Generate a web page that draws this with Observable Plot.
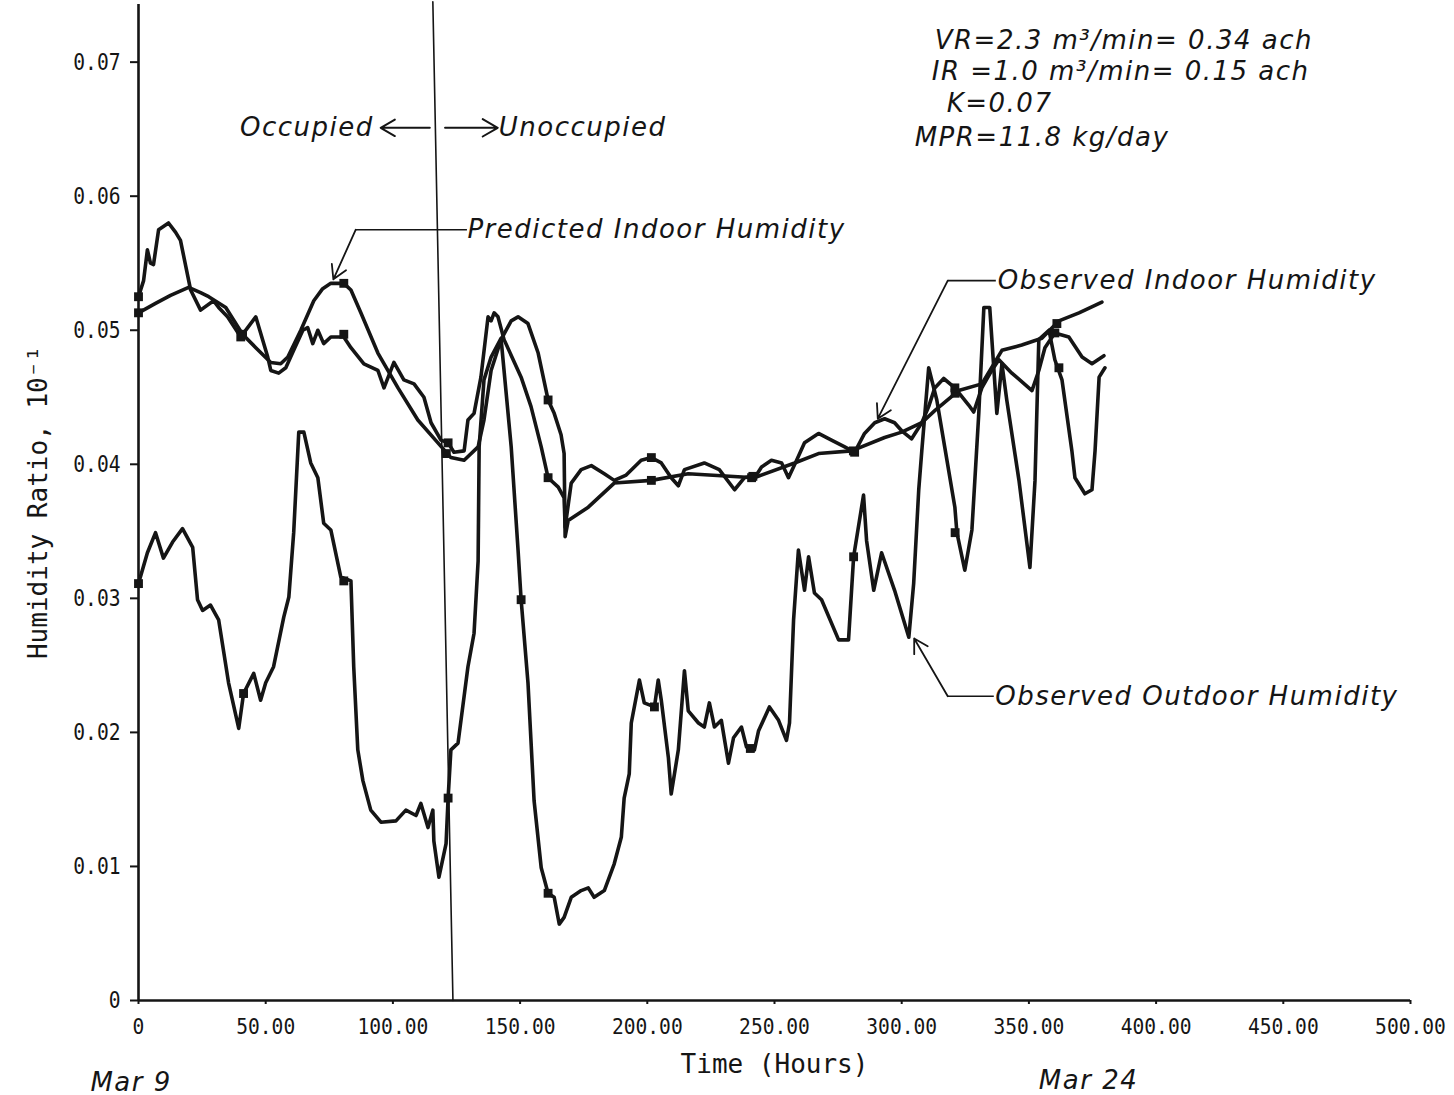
<!DOCTYPE html>
<html><head><meta charset="utf-8">
<script src="https://cdn.jsdelivr.net/npm/d3@7"></script>
<script src="https://cdn.jsdelivr.net/npm/@observablehq/plot@0.6"></script>
<style>
body{margin:0;background:#fff;}
#chart svg{display:block}
</style></head><body><div id="chart"></div>
<script>
// Hours, humidity ratio (10^-1)
const predicted = [
[0,0.0513],[6.7,0.0520],[12.6,0.0526],[19.7,0.0532],[24.4,0.0528],[27.6,0.0525],[34.3,0.0517],[40.9,0.0497],[46.1,0.0487],[52.0,0.0476],[55.9,0.0475],[58.7,0.0480],[63.8,0.0500],[68.9,0.0522],[72.4,0.0531],[75.6,0.0535],[80.7,0.0535],[83.5,0.0530],[87.4,0.0513],[94.1,0.0483],[102.0,0.0457],[109.8,0.0433],[117.7,0.0416],[122.8,0.0405],[128.0,0.0403],[133.5,0.0413],[135.8,0.0433],[138.6,0.0470],[142.5,0.0493],[146.5,0.0507],[149.2,0.0510],[153.1,0.0505],[157.1,0.0483],[161.0,0.0448],[163.4,0.0438],[166.1,0.0422],[167.3,0.0408],[167.7,0.0346],[168.9,0.0358],[176.8,0.0368],[187.0,0.0386],[201.6,0.0388],[216.1,0.0393],[242.1,0.0390],[257.9,0.0401],[267.3,0.0408],[280.3,0.0410],[293.3,0.0420],[300.0,0.0424],[307.9,0.0431],[313.0,0.0440],[322.4,0.0455],[331.5,0.0460],[339.4,0.0485],[347.2,0.0489],[355.1,0.0494],[361.8,0.0507],[369.7,0.0513],[378.7,0.0521]
];
const observedIndoor = [
[0,0.0525],[2.0,0.0537],[3.5,0.0560],[4.7,0.0550],[5.9,0.0549],[7.9,0.0575],[11.8,0.0580],[14.6,0.0573],[16.5,0.0567],[20.5,0.0530],[24.4,0.0515],[29.5,0.0522],[31.5,0.0517],[35.0,0.0510],[40.2,0.0495],[46.1,0.0510],[50.8,0.0480],[52.0,0.0470],[55.1,0.0468],[57.9,0.0472],[61.0,0.0485],[64.6,0.0500],[66.5,0.0502],[68.5,0.0490],[70.5,0.0500],[72.8,0.0490],[75.6,0.0495],[80.7,0.0495],[83.5,0.0487],[88.6,0.0475],[94.1,0.0470],[96.5,0.0457],[100.4,0.0476],[104.3,0.0463],[108.3,0.0460],[112.2,0.0450],[115.0,0.0431],[118.9,0.0418],[121.7,0.0416],[124.0,0.0409],[128.0,0.0410],[129.5,0.0433],[131.9,0.0438],[134.6,0.0465],[137.4,0.0510],[138.6,0.0507],[139.8,0.0513],[141.3,0.0510],[143.7,0.0493],[150.4,0.0465],[154.3,0.0443],[158.3,0.0413],[161.0,0.0390],[165.0,0.0383],[167.3,0.0375],[167.7,0.0353],[170.1,0.0386],[174.0,0.0396],[178.0,0.0399],[183.1,0.0393],[187.0,0.0388],[191.7,0.0392],[197.6,0.0403],[201.6,0.0405],[205.5,0.0401],[209.4,0.0390],[212.2,0.0384],[214.6,0.0396],[222.4,0.0401],[228.3,0.0396],[234.3,0.0381],[238.2,0.0390],[242.9,0.0392],[244.9,0.0398],[248.8,0.0403],[252.8,0.0401],[255.5,0.0390],[258.7,0.0403],[261.8,0.0416],[267.3,0.0423],[272.4,0.0418],[277.6,0.0413],[281.5,0.0409],[285.4,0.0423],[289.4,0.0431],[293.3,0.0434],[297.2,0.0431],[300.0,0.0425],[303.9,0.0419],[307.9,0.0431],[310.6,0.0443],[313.0,0.0457],[316.5,0.0464],[320.9,0.0457],[326.4,0.0444],[328.3,0.0439],[331.5,0.0457],[335.4,0.0470],[338.2,0.0478],[343.3,0.0468],[351.2,0.0455],[353.9,0.0470],[356.3,0.0487],[360.2,0.0498],[365.7,0.0495],[370.9,0.0480],[374.8,0.0475],[379.5,0.0481]
];
const observedOutdoor = [
[0,0.0311],[3.5,0.0334],[6.7,0.0349],[9.8,0.0330],[13.4,0.0342],[17.3,0.0352],[21.3,0.0338],[23.2,0.0299],[25.2,0.0291],[28.3,0.0295],[31.5,0.0284],[35.4,0.0237],[39.4,0.0203],[41.3,0.0229],[45.3,0.0244],[48.0,0.0224],[50.0,0.0237],[53.1,0.0249],[57.1,0.0286],[59.1,0.0301],[61.0,0.0349],[63.0,0.0424],[65.0,0.0424],[67.7,0.0401],[70.5,0.0390],[72.8,0.0356],[75.6,0.0351],[79.5,0.0316],[83.5,0.0313],[84.6,0.0249],[86.2,0.0187],[88.2,0.0164],[91.3,0.0142],[95.3,0.0133],[101.2,0.0134],[105.1,0.0142],[109.1,0.0138],[111.0,0.0147],[113.8,0.0129],[115.7,0.0142],[116.1,0.0119],[118.1,0.0092],[120.9,0.0117],[121.7,0.0151],[122.8,0.0187],[125.6,0.0192],[129.5,0.0249],[131.9,0.0274],[133.5,0.0328],[133.9,0.0413],[135.8,0.0463],[138.6,0.0480],[142.5,0.0494],[146.5,0.0413],[149.2,0.0336],[150.4,0.0299],[153.1,0.0237],[155.5,0.0149],[158.3,0.0099],[161.0,0.0080],[163.4,0.0077],[165.4,0.0057],[167.3,0.0062],[170.1,0.0077],[174.0,0.0082],[176.8,0.0084],[179.1,0.0077],[183.1,0.0082],[187.0,0.0102],[189.8,0.0122],[190.9,0.0151],[192.9,0.0169],[193.7,0.0207],[196.9,0.0239],[198.8,0.0222],[202.8,0.0219],[204.3,0.0239],[205.5,0.0224],[208.3,0.0181],[209.4,0.0154],[212.2,0.0187],[214.6,0.0246],[216.1,0.0216],[220.1,0.0207],[222.4,0.0204],[224.4,0.0222],[226.4,0.0204],[229.1,0.0209],[231.9,0.0177],[233.9,0.0196],[237.0,0.0204],[239.0,0.0189],[242.1,0.0187],[243.7,0.0201],[248.0,0.0219],[251.6,0.0209],[254.7,0.0194],[255.9,0.0207],[257.5,0.0284],[259.4,0.0336],[261.8,0.0306],[263.4,0.0331],[265.7,0.0304],[268.5,0.0299],[275.2,0.0269],[279.1,0.0269],[281.1,0.0331],[285.0,0.0377],[286.2,0.0343],[289.0,0.0306],[292.1,0.0334],[297.2,0.0306],[302.8,0.0271],[304.7,0.0311],[306.7,0.0381],[307.9,0.0410],[310.6,0.0472],[313.8,0.0448],[316.9,0.0413],[320.9,0.0368],[321.7,0.0349],[324.8,0.0321],[327.6,0.0351],[330.3,0.0438],[332.3,0.0517],[334.6,0.0517],[337.4,0.0438],[339.4,0.0475],[341.3,0.0448],[346.1,0.0388],[350.4,0.0323],[352.4,0.0388],[353.9,0.0493],[357.9,0.0500],[360.2,0.0478],[363.0,0.0463],[366.9,0.0410],[368.1,0.0390],[372.0,0.0378],[374.8,0.0381],[376.0,0.0410],[377.6,0.0465],[379.9,0.0472]
];
// plotting-symbol points on each curve
const predictedMarkers = [[0,0.0513],[40.9,0.0497],[80.7,0.0535],[121.0,0.0408],[161.0,0.0448],[201.6,0.0388],[241.0,0.0390],[281.0,0.0410],[321.0,0.0453],[361.0,0.0505]];
const indoorMarkers = [[0,0.0525],[40.2,0.0495],[80.7,0.0497],[121.7,0.0416],[161.0,0.0390],[201.6,0.0405],[241.5,0.0391],[281.5,0.0409],[320.9,0.0457],[360.2,0.0498]];
const outdoorMarkers = [[0,0.0311],[41.3,0.0229],[80.7,0.0313],[121.7,0.0151],[150.4,0.0299],[161.0,0.0080],[202.8,0.0219],[240.5,0.0188],[281.1,0.0331],[321.0,0.0349],[361.8,0.0472]];
// occupied / unoccupied divider (as drawn, slightly slanted)
const divider = [[115.7,0.0745],[123.6,0]];
const xTicks = [0,50,100,150,200,250,300,350,400,450,500];
const yTicks = [0,0.01,0.02,0.03,0.04,0.05,0.06,0.07];
const paramLines = ["VR=2.3 m³/min= 0.34 ach","IR =1.0 m³/min= 0.15 ach","K=0.07","MPR=11.8 kg/day"];

const rows = a => a.map(([h,v]) => ({h, v}));
const INK = "#151515";
const ital = {fontFamily:"DejaVu Sans", fontStyle:"italic", fontSize:26, fill:INK};
const lineStyle = {x:"h", y:"v", stroke:INK, strokeWidth:3.6, strokeLinejoin:"round", strokeLinecap:"round"};
const dotStyle = {x:"h", y:"v", symbol:"square", r:5, fill:INK};
const fmt = d => d === 0 ? "0" : d.toFixed(2);

const plot = Plot.plot({
  width:1454, height:1095,
  marginLeft:138, marginRight:44, marginTop:4, marginBottom:95,
  x:{domain:[0,500]},
  y:{domain:[0,0.0743]},
  style:{fontFamily:"DejaVu Sans Mono", fontSize:"25px", color:INK, background:"white", overflow:"visible"},
  marks:[
    Plot.axisY({ticks:yTicks, tickFormat:fmt, tickSize:8, tickPadding:10, strokeWidth:2, fontSize:23,
      label:"Humidity Ratio, 10⁻¹", labelAnchor:"center", labelArrow:"none", labelOffset:110}),
    Plot.axisX({ticks:xTicks, tickFormat:fmt, tickSize:4, tickPadding:14, strokeWidth:2, fontSize:22,
      label:"Time (Hours)", labelAnchor:"center", labelArrow:"none", labelOffset:72}),
    Plot.ruleX([0], {stroke:INK, strokeWidth:2.6}),
    Plot.ruleY([0], {stroke:INK, strokeWidth:2.6}),
    Plot.line(rows(divider), {x:"h", y:"v", stroke:INK, strokeWidth:1.6}),
    Plot.line(rows(observedOutdoor), lineStyle),
    Plot.line(rows(predicted), lineStyle),
    Plot.line(rows(observedIndoor), lineStyle),
    Plot.dot(rows(outdoorMarkers), dotStyle),
    Plot.dot(rows(predictedMarkers), dotStyle),
    Plot.dot(rows(indoorMarkers), dotStyle),
    // occupied / unoccupied
    Plot.text(["Occupied"], {...ital, x:92.5, y:0.0651, textAnchor:"end"}),
    Plot.arrow([0], {x1:114.5, y1:0.0651, x2:95.2, y2:0.0651, stroke:INK, strokeWidth:2, headLength:13}),
    Plot.arrow([0], {x1:120.5, y1:0.0651, x2:141.2, y2:0.0651, stroke:INK, strokeWidth:2, headLength:13}),
    Plot.text(["Unoccupied"], {...ital, x:141.6, y:0.0651, textAnchor:"start"}),
    // curve labels with leaders
    Plot.text(["Predicted Indoor Humidity"], {...ital, x:129.3, y:0.0575, textAnchor:"start"}),
    Plot.link([0], {x1:129.1, y1:0.0575, x2:85.4, y2:0.0575, stroke:INK, strokeWidth:1.6}),
    Plot.arrow([0], {x1:85.4, y1:0.0575, x2:76.6, y2:0.0538, stroke:INK, strokeWidth:1.8, headLength:13}),
    Plot.text(["Observed Indoor Humidity"], {...ital, x:337.8, y:0.0537, textAnchor:"start"}),
    Plot.link([0], {x1:337.0, y1:0.0537, x2:318.1, y2:0.0537, stroke:INK, strokeWidth:1.6}),
    Plot.arrow([0], {x1:318.1, y1:0.0537, x2:290.6, y2:0.0434, stroke:INK, strokeWidth:1.8, headLength:13}),
    Plot.text(["Observed Outdoor Humidity"], {...ital, x:336.8, y:0.0227, textAnchor:"start"}),
    Plot.link([0], {x1:336.2, y1:0.0227, x2:318.1, y2:0.0227, stroke:INK, strokeWidth:1.6}),
    Plot.arrow([0], {x1:318.1, y1:0.0227, x2:304.9, y2:0.0270, stroke:INK, strokeWidth:1.8, headLength:13}),
    // run parameters
    Plot.text([paramLines[0]], {...ital, x:313.0, y:0.0716, textAnchor:"start"}),
    Plot.text([paramLines[1]], {...ital, x:311.8, y:0.0693, textAnchor:"start"}),
    Plot.text([paramLines[2]], {...ital, x:317.7, y:0.0669, textAnchor:"start"}),
    Plot.text([paramLines[3]], {...ital, x:305.1, y:0.0644, textAnchor:"start"}),
    // dates
    Plot.text(["Mar 9"], {...ital, x:-18.9, y:-0.0061, textAnchor:"start"}),
    Plot.text(["Mar 24"], {...ital, x:353.9, y:-0.0060, textAnchor:"start"})
  ]
});

const sel = d3.select(plot);
sel.selectAll('[aria-label="x-axis tick label"] text, [aria-label="y-axis tick label"] text').each(function(){
  const n = this.textContent.length;
  this.setAttribute("textLength", n * 11.8);
  this.setAttribute("lengthAdjust", "spacingAndGlyphs");
});
sel.selectAll('[aria-label="x-axis label"], [aria-label="y-axis label"]').attr("font-size", 26);
sel.selectAll('[aria-label="x-axis label"] text, [aria-label="y-axis label"] text').attr("font-size", 26);
sel.selectAll('g[font-style="italic"] text').style("letter-spacing", "1.5px");
document.getElementById("chart").appendChild(plot);
</script></body></html>
